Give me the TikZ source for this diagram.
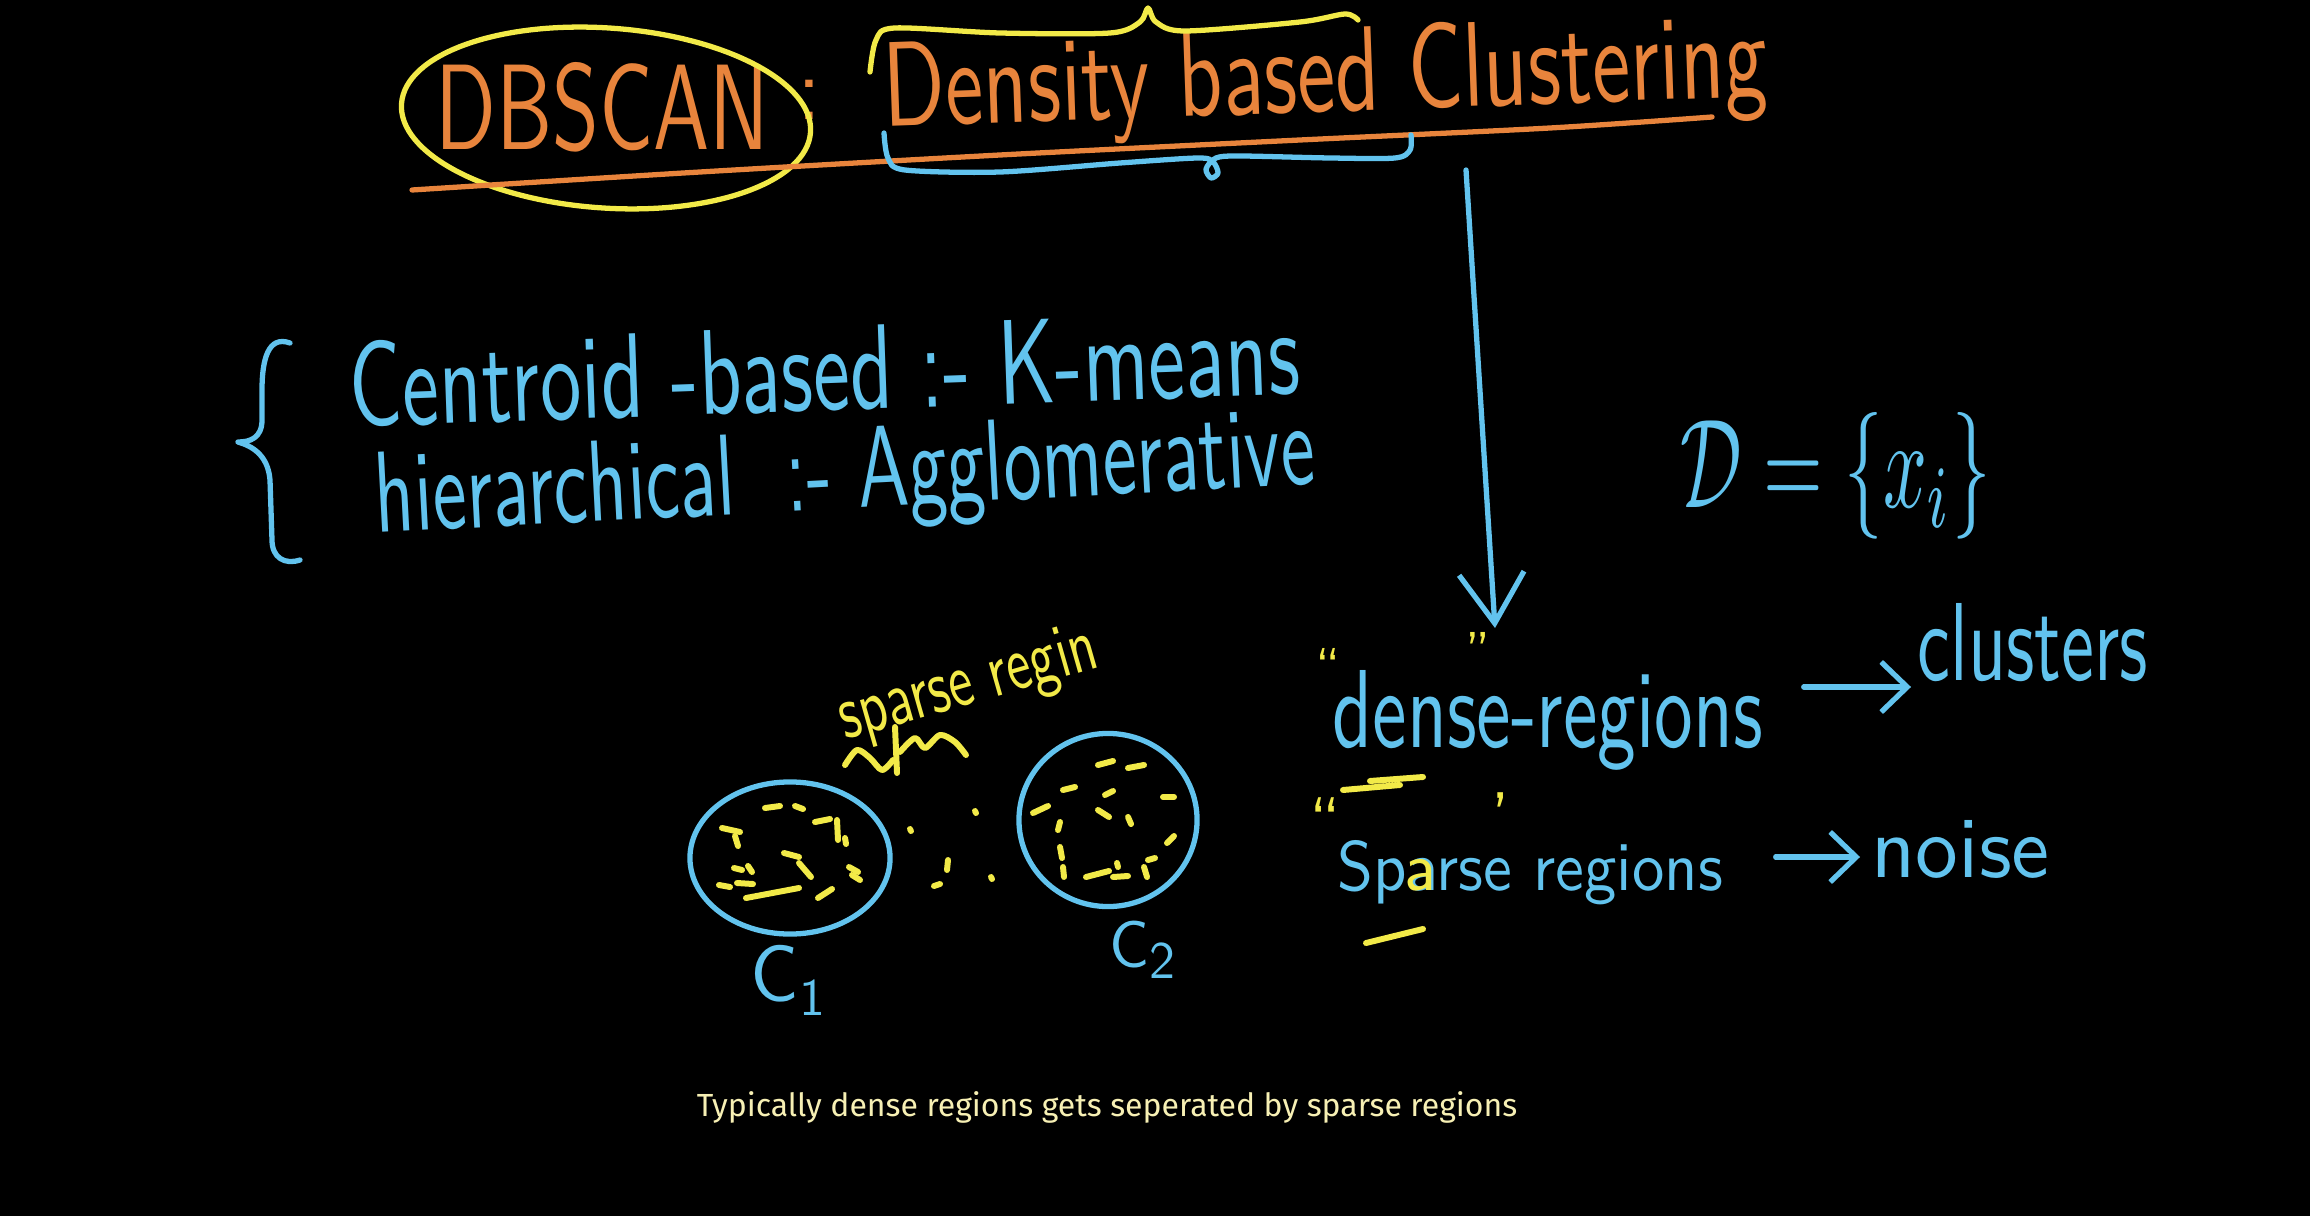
\documentclass[tikz,border=0pt]{standalone}
\usepackage{fontspec}
\usepackage{graphicx}
\usetikzlibrary{arrows.meta,shapes.geometric}
\newfontfamily\capfont{Fira Sans}
\definecolor{chalkblue}{HTML}{62C3EE}
\definecolor{chalkorange}{HTML}{E8843C}
\definecolor{chalkyellow}{HTML}{F2EA48}
\definecolor{captionyellow}{HTML}{F7F0B4}
\newcommand{\hw}[3]{\resizebox{#1}{#2}{#3}}

\begin{document}
\begin{tikzpicture}[x=0.01cm,y=-0.01cm,
  pen/.style={line width=1.5pt,line cap=round,line join=round},
  hand/.style={inner sep=0pt,anchor=base west,font=\sffamily},
  arr/.style={pen,chalkblue,-{Straight Barb[length=2.6mm,width=5mm]}},
  clus/.style={pen,draw=chalkblue,ellipse,inner sep=0pt},
  speck/.style={pen,chalkyellow,line width=1.7pt},
  quote/.style={text=chalkyellow,inner sep=0pt,font=\sffamily\fontsize{16}{16}\selectfont}]

\fill[black] (0,0) rectangle (2310,1216);

\node[hand,text=chalkorange] (dbscan) at (435,150) {\hw{3.33cm}{0.87cm}{DBSCAN}};
\node[hand,text=chalkorange,font=\sffamily\fontsize{26}{26}\selectfont] (colon) at (797,120) {:};
\node[hand,text=chalkorange,rotate=2] (title) at (884,127) {\hw{8.84cm}{0.85cm}{Density based Clustering}};
\draw[pen,chalkyellow,rotate around={-4:(606,118)}] (606,118) ellipse [x radius=205,y radius=90];
\draw[pen,chalkorange] plot[smooth] coordinates {(412,190) (700,172) (1000,155) (1300,140) (1550,128) (1712,117)};
\draw[pen,chalkyellow] plot[smooth] coordinates {(870,72) (876,40) (895,28) (1000,33) (1110,33) (1140,22) (1148,8) (1156,22) (1185,31) (1300,22) (1345,14) (1358,20)};
\draw[pen,chalkblue] plot[smooth] coordinates {(884,133) (888,158) (905,170) (1000,172) (1120,163) (1198,158) (1213,162) (1218,173) (1211,178) (1206,169) (1216,158) (1240,156) (1330,158) (1395,158) (1410,150) (1411,135)};
\coordinate (braceend) at (1466,170);

\draw[pen,chalkblue] (290,343) .. controls (268,335) and (262,360) .. (262,390) -- (262,420)
  .. controls (262,438) and (250,442) .. (238,442) .. controls (252,446) and (268,455) .. (270,480)
  -- (272,540) .. controls (272,558) and (285,565) .. (300,560);
\node[hand,text=chalkblue,rotate=2] (centroid) at (350,427) {\hw{9.5cm}{0.85cm}{Centroid -based :- K-means}};
\node[hand,text=chalkblue,rotate=3] (hier) at (376,533) {\hw{9.4cm}{0.8cm}{hierarchical \ :- Agglomerative}};

\node[hand,text=chalkblue] (dset) at (1680,508) {\hw{3.1cm}{0.95cm}{$\mathcal{D}=\{x_i\}$}};

\node[quote] (oq1) at (1328,668) {``};
\node[quote] (cq1) at (1478,652) {''};
\node[hand,text=chalkblue] (dense) at (1332,747) {\hw{4.3cm}{0.77cm}{dense-regions}};
\node[hand,text=chalkblue] (clusters) at (1917,680) {\hw{2.3cm}{0.77cm}{clusters}};
\draw[arr,-{Straight Barb[length=5mm,width=6.5mm]}] (braceend) -- ([shift={(17,-24)}]cq1.center);
\draw[arr] ([shift={(40,-60)}]dense.base east) -- ([shift={(-6,7)}]clusters.base west);
\draw[speck] (1343,790) -- (1400,785) (1370,781) -- (1423,777);

\node[quote,font=\sffamily\fontsize{20}{20}\selectfont] (oq2) at (1325,822) {``};
\node[quote,font=\sffamily\fontsize{20}{20}\selectfont] (cq2) at (1501,817) {'};
\node[hand,text=chalkblue] (sparse) at (1337,890) {\hw{3.85cm}{0.5cm}{Sparse regions}};
\node[hand,text=chalkyellow,font=\sffamily\fontsize{20}{20}\selectfont] (afix) at (1404,890) {a};
\node[hand,text=chalkblue] (noise) at (1871,877) {\hw{1.78cm}{0.57cm}{noise}};
\draw[arr] ([shift={(52,-33)}]sparse.base east) -- ([shift={(-11,-20)}]noise.base west);
\draw[speck] (1366,943) -- (1423,929);

\node[clus,minimum width=2cm,minimum height=1.52cm] (c1) at (790,858) {};
\node[clus,minimum width=1.78cm,minimum height=1.73cm] (c2) at (1108,820) {};
\node[text=chalkblue,font=\sffamily\fontsize{23}{23}\selectfont] (c1lbl) at (788,980)
  {C\raisebox{-4pt}{\fontsize{15}{15}\selectfont 1}};
\node[text=chalkblue,font=\sffamily\fontsize{19}{19}\selectfont] (c2lbl) at (1142,950)
  {C\raisebox{-3pt}{\fontsize{15}{15}\selectfont 2}};

\foreach \xa/\ya/\xb/\yb in {765/808/780/806, 795/806/803/809, 815/822/830/819, 837/820/838/840,
  722/828/740/832, 735/836/738/846, 784/853/799/857, 799/863/811/877, 849/867/858/872,
  852/875/860/880, 734/868/742/870, 748/866/752/872, 719/885/730/887, 737/883/753/884,
  746/898/799/888, 818/898/832/889, 845/838/846/844,
  1098/765/1113/761, 1128/768/1144/765, 1063/790/1075/787, 1105/795/1113/791,
  1163/797/1174/797, 1033/813/1048/806, 1098/810/1109/817, 1128/817/1131/824,
  1060/822/1058/830, 1167/843/1174/836, 1060/847/1062/858, 1148/860/1155/858,
  1063/867/1064/877, 1086/877/1109/871, 1117/863/1118/867, 1113/877/1128/876,
  1144/867/1147/877,
  975/811/976/813, 910/829/911/831, 948/860/947/870, 934/886/940/884, 991/877/992/879}
  \draw[speck] (\xa,\ya) -- (\xb,\yb);

\node[hand,text=chalkyellow,rotate=16] (gaplbl) at (845,740) {\hw{2.66cm}{0.5cm}{sparse regin}};
\draw[speck] plot[smooth] coordinates {(845,765) (857,750) (870,758) (882,770) (893,760)};
\draw[speck] (895,727) -- (897,773);
\draw[speck] plot[smooth] coordinates {(900,752) (915,738) (925,748) (940,735) (955,742) (966,755)};

\node[font=\capfont,text=captionyellow,inner sep=0pt] (caption) at (1107,1107)
  {\resizebox{8.2cm}{!}{Typically dense regions gets seperated by sparse regions}};
\end{tikzpicture}
\end{document}
